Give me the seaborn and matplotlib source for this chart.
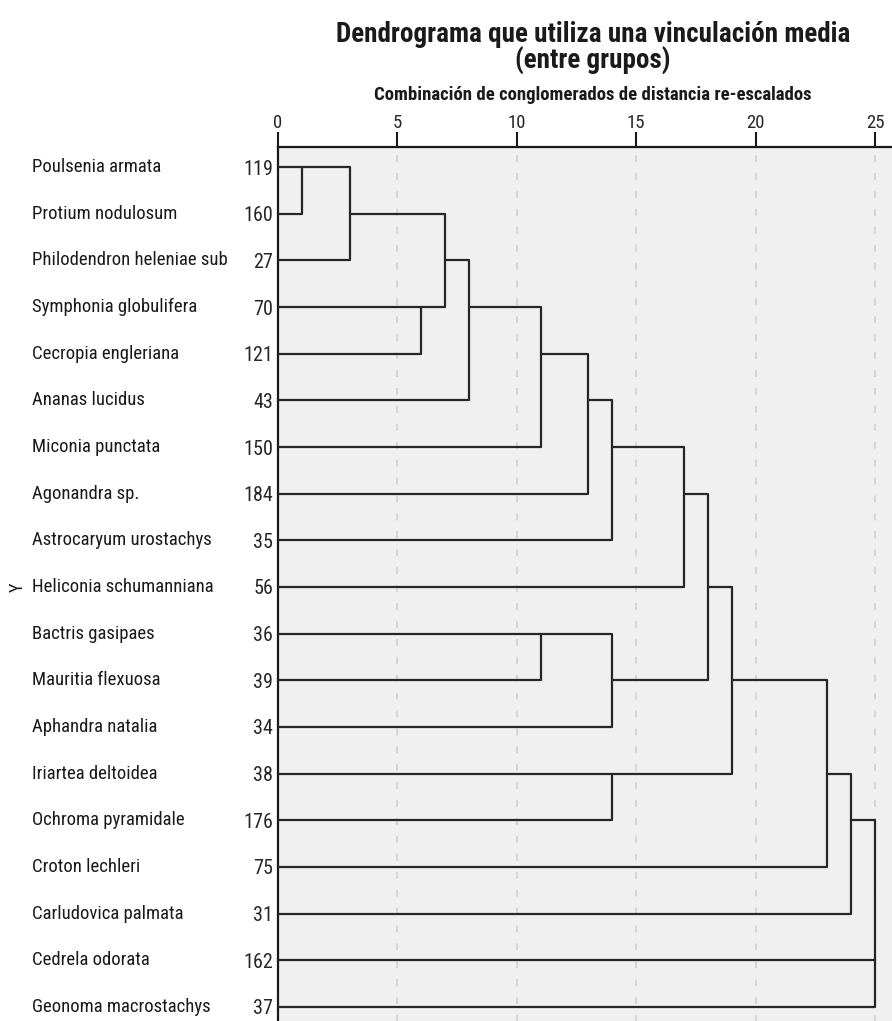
import numpy as np
import pandas as pd
import matplotlib
matplotlib.use("Agg")
import matplotlib.pyplot as plt
import matplotlib.transforms as mtransforms
from matplotlib import font_manager
import seaborn as sns

# Leaves in dendrogram order (top to bottom)
species = [
    "Poulsenia armata", "Protium nodulosum", "Philodendron heleniae sub",
    "Symphonia globulifera", "Cecropia engleriana", "Ananas lucidus",
    "Miconia punctata", "Agonandra sp.", "Astrocaryum urostachys",
    "Heliconia schumanniana", "Bactris gasipaes", "Mauritia flexuosa",
    "Aphandra natalia", "Iriartea deltoidea", "Ochroma pyramidale",
    "Croton lechleri", "Carludovica palmata", "Cedrela odorata",
    "Geonoma macrostachys",
]
case_ids = [119, 160, 27, 70, 121, 43, 150, 184, 35, 56, 36, 39, 34, 38, 176,
            75, 31, 162, 37]

# Agglomeration schedule: leaves are 0..18, new clusters numbered from 19 on
merge_left = [0, 19, 3, 20, 22, 23, 24, 25, 26, 10, 28, 27, 13, 30, 32, 33, 17, 34]
merge_right = [1, 2, 4, 21, 5, 6, 7, 8, 9, 11, 12, 29, 14, 31, 15, 16, 18, 35]
merge_height = [1, 3, 6, 7, 8, 11, 13, 14, 17, 11, 14, 18, 14, 19, 23, 24, 25, 25]

x_ticks = [0, 5, 10, 15, 20, 25]

# Build the bracket paths of every link
n = len(species)
pos = {i: (0.0, i) for i in range(n)}
rows = []
for k, (a, b, h) in enumerate(zip(merge_left, merge_right, merge_height)):
    ha, ya = pos[a]
    hb, yb = pos[b]
    for order, (xx, yy) in enumerate([(ha, ya), (h, ya), (h, yb), (hb, yb)]):
        rows.append({"link": k, "order": order, "x": xx, "y": yy})
    pos[n + k] = (float(h), (ya + yb) // 2)
links = pd.DataFrame(rows)

# Pick a narrow sans face if one is installed
fonts = font_manager.fontManager.ttflist
names = {f.name for f in fonts}
stretch = "normal"
if "Liberation Sans Narrow" in names:
    family = "Liberation Sans Narrow"
elif "Roboto Condensed" in names:
    family = "Roboto Condensed"
elif any(f.name == "DejaVu Sans" and f.stretch == "condensed" for f in fonts):
    family = "DejaVu Sans"
    stretch = "condensed"
else:
    family = "Liberation Sans"

sns.set_theme(style="white")
plt.rcParams["font.family"] = [family, "DejaVu Sans"]
plt.rcParams["font.stretch"] = stretch
plt.rcParams["text.color"] = "#1a1a1a"

fig = plt.figure(figsize=(8.92, 10.21), dpi=100)
ax = fig.add_axes([278 / 892, -6 / 1021, 630 / 892, 880 / 1021])
ax.set_facecolor("#f0f0f0")

for xv in x_ticks[1:]:
    ax.axvline(xv, color="#d6d6d6", lw=1.5, ls=(0, (3.3, 5.3)), zorder=1)

sns.lineplot(data=links, x="x", y="y", units="link", estimator=None,
             sort=False, color="#262626", lw=1.6, ax=ax, legend=False,
             zorder=3)

ax.set_xlim(0, 630 / 23.88)
ax.set_ylim(18.43, -0.43)

ax.xaxis.tick_top()
ax.set_xticks(x_ticks)
ax.set_xticklabels([str(t) for t in x_ticks], fontsize=13.5)
ax.tick_params(axis="x", direction="out", length=11, width=1.5,
               color="#1a1a1a", pad=0)
ax.set_yticks(range(n))
ax.set_yticklabels([str(c) for c in case_ids], fontsize=14.5)
ax.tick_params(axis="y", length=0, pad=3.5)
ax.set_xlabel("")
ax.set_ylabel("")

for side in ["right", "bottom"]:
    ax.spines[side].set_visible(False)
for side in ["top", "left"]:
    ax.spines[side].set_color("#1a1a1a")
    ax.spines[side].set_linewidth(1.6)

lab_tr = mtransforms.blended_transform_factory(fig.transFigure, ax.transData)
for i, name in enumerate(species):
    ax.text(32 / 892, i, name, transform=lab_tr, ha="left", va="center",
            fontsize=13.5)

# Vertical axis label, centred on the rows
fig.text(18 / 892, 1 - 587 / 1021, "Y", rotation=90, ha="center",
         va="center", fontsize=13)

title_x = 593 / 892
fig.text(title_x, 1 - 48 / 1021,
         "Dendrograma que utiliza una vinculación media\n(entre grupos)",
         ha="center", va="center", fontsize=19.5, fontweight="bold",
         linespacing=0.92)
fig.text(title_x, 1 - 100 / 1021,
         "Combinación de conglomerados de distancia re-escalados",
         ha="center", va="baseline", fontsize=13.5, fontweight="bold")

fig.savefig("out.png", dpi=100)
